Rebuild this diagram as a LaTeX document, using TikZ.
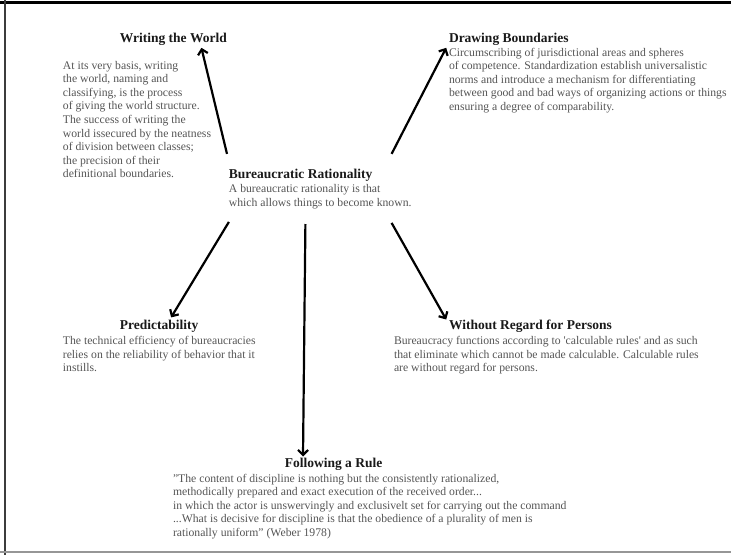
\documentclass[tikz,border=0pt]{standalone}
\usepackage{fontspec}
\setmainfont{Liberation Serif}
\usetikzlibrary{positioning,arrows.meta}
\definecolor{brInk}{RGB}{25,25,25}
\definecolor{brText}{RGB}{85,85,85}
\definecolor{brFrame}{RGB}{60,60,60}
\definecolor{brRule}{RGB}{150,150,150}
\tikzset{
    base/.style={inner sep=0pt, outer sep=0pt},
    heading/.style={base, anchor=base west, text=brInk,
                    font=\fontsize{13.5}{15}\selectfont\bfseries},
    blurb/.style={base, anchor=north west, align=left, text=brText,
                  font=\fontsize{11.7}{13.6}\selectfont},
    flow/.style={-{Straight Barb[length=5pt,width=10pt]}, line width=2.2pt, color=black}
}
\begin{document}
\begin{tikzpicture}[x=1pt, y=-1pt]
  \useasboundingbox (0,0) rectangle (731,555);
  % page frame
  \draw[black, line width=3pt] (0,2) -- (731,2);
  \draw[brFrame, line width=2.5pt] (5,0) -- (5,555);
  \draw[brRule, line width=2pt] (0,552) -- (731,552);

  % centre
  \node[heading] (brtitle) at (228.9,178.5) {Bureaucratic Rationality};
  \node[blurb] (brtext) at (228.9,184.8) {A bureaucratic rationality is that\\
    which allows things to become known.};

  % Writing the World
  \node[heading] (wtwtitle) at (119.8,42) {Writing the World};
  \node[blurb] (wtwtext) at (62.9,61) {At its very basis, writing\\
    the world, naming and\\
    classifying, is the process\\
    of giving the world structure.\\
    The success of writing the\\
    world issecured by the neatness\\
    of division between classes;\\
    the precision of their\\
    definitional boundaries.};

  % Drawing Boundaries
  \node[heading] (dbtitle) at (449,42) {Drawing Boundaries};
  \node[blurb] (dbtext) at (449,47.9) {Circumscribing of jurisdictional areas and spheres\\
    of competence. Standardization establish universalistic\\
    norms and introduce a mechanism for differentiating\\
    between good and bad ways of organizing actions or things\\
    ensuring a degree of comparability.};

  % Predictability
  \node[heading] (predtitle) at (119.8,329.6) {Predictability};
  \node[blurb] (predtext) at (62.9,336.3) {The technical efficiency of bureaucracies\\
    relies on the reliability of behavior that it\\
    instills.};

  % Without Regard for Persons
  \node[heading] (wrptitle) at (449,329.6) {Without Regard for Persons};
  \node[blurb] (wrptext) at (394,336.3) {Bureaucracy functions according to \textquotesingle calculable rules\textquotesingle\ and as such\\
    that eliminate which cannot be made calculable. Calculable rules\\
    are without regard for persons.};

  % Following a Rule
  \node[heading] (ruletitle) at (284.8,467.6) {Following a Rule};
  \node[blurb] (ruletext) at (173,473.9) {"The content of discipline is nothing but the consistently rationalized,\\
    methodically prepared and exact execution of the received order...\\
    in which the actor is unswervingly and exclusivelt set for carrying out the command\\
    ...What is decisive for discipline is that the obedience of a plurality of men is\\
    rationally uniform" (Weber 1978)};

  % arrows out of the centre
  \draw[flow] ([shift={(-1.9,-24.6)}]brtitle.base west) -- ([shift={(81.6,5.8)}]wtwtitle.base west);
  \draw[flow] ([shift={(162.7,-24.6)}]brtitle.base west) -- ([shift={(-2.8,5.8)}]dbtitle.base west);
  \draw[flow] ([shift={(0,43.4)}]brtitle.base west) -- ([shift={(51.3,-12.2)}]predtitle.base west);
  \draw[flow] ([shift={(76.5,45.5)}]brtitle.base west) -- ([shift={(18.2,-11.1)}]ruletitle.base west);
  \draw[flow] ([shift={(162.7,44.4)}]brtitle.base west) -- ([shift={(-2.8,-10.1)}]wrptitle.base west);
\end{tikzpicture}
\end{document}
